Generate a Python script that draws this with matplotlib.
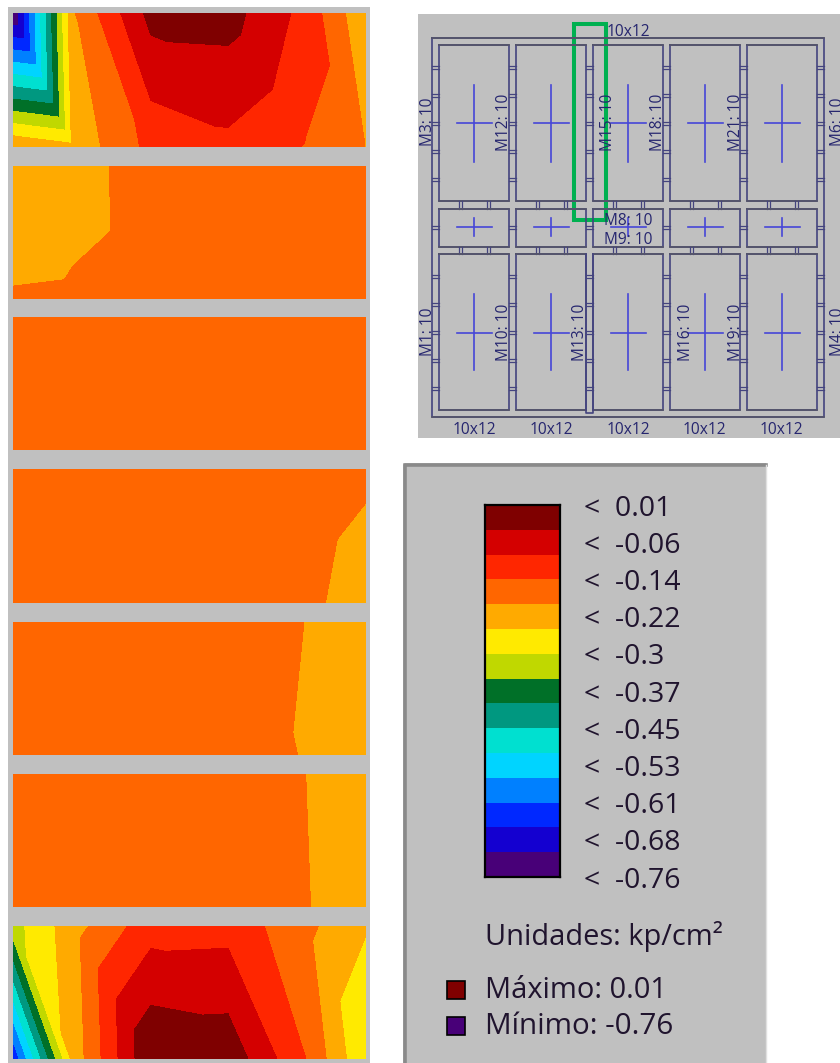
import matplotlib
matplotlib.use('Agg')
import matplotlib.pyplot as plt
import matplotlib.tri as mtri
from matplotlib.colors import ListedColormap, BoundaryNorm
from matplotlib.patches import Rectangle
import numpy as np

W, H = 840, 1063
plt.rcParams['font.family'] = ['Open Sans', 'DejaVu Sans']

# colour bands, top of the scale first
band_colors = ['#7f0000', '#d40000', '#ff2600', '#ff6600', '#ffaa00', '#ffea00', '#c0d800', '#007028',
               '#009880', '#00e0d0', '#00d4ff', '#0080ff', '#0028ff', '#1400d0', '#480078']
tick_values = [0.01, -0.06, -0.14, -0.22, -0.3, -0.37, -0.45, -0.53, -0.61, -0.68, -0.76]
vmin, vmax = -0.76, 0.01

# strips: mesh nodes along the width, values on the top and bottom edge (kp/cm2)
node_x = [13, 73, 151, 228, 306, 366]
strip_y = [(13, 147), (166, 299), (317, 450), (469, 603), (622, 755), (774, 907), (926, 1059)]
strip1_top = [-0.76, -0.20, -0.024, -0.021, -0.110, -0.24]
strip1_bot = [-0.20, -0.232, -0.129, -0.105, -0.147, -0.197]
strip2_top = [-0.221, -0.2085, -0.18, -0.165, -0.165, -0.17]
strip2_bot = [-0.1926, -0.191, -0.1815, -0.165, -0.165, -0.17]
strip3_top = [-0.17, -0.17, -0.17, -0.17, -0.17, -0.17]
strip3_bot = [-0.17, -0.17, -0.17, -0.17, -0.17, -0.17]
strip4_top = [-0.17, -0.17, -0.17, -0.165, -0.152, -0.182]
strip4_bot = [-0.17, -0.17, -0.17, -0.17, -0.1764, -0.235]
strip5_top = [-0.17, -0.17, -0.17, -0.17, -0.196, -0.21]
strip5_bot = [-0.17, -0.17, -0.17, -0.153, -0.2005, -0.21]
strip6_top = [-0.17, -0.17, -0.17, -0.17, -0.1955, -0.21]
strip6_bot = [-0.17, -0.17, -0.17, -0.17, -0.1927, -0.227]
strip7_top = [-0.318, -0.216, -0.113, -0.11, -0.183, -0.243]
strip7_bot = [-0.65, -0.229, 0.007, -0.006, -0.144, -0.296]
strips = [(strip1_top, strip1_bot), (strip2_top, strip2_bot), (strip3_top, strip3_bot), (strip4_top, strip4_bot),
          (strip5_top, strip5_bot), (strip6_top, strip6_bot), (strip7_top, strip7_bot)]

# floor plan
col_left = [439, 516, 593, 670, 747]
col_right = [509, 586, 663, 740, 817]
row_top = [45, 209, 254]
row_bot = [201, 247, 410]
row_cross_v = [(85, 162), (218, 236), (294, 370)]
row_cross_h = [123, 227, 333]
row_rungs = [[67, 95, 123, 151, 179], [227], [276, 304, 332, 360, 388]]
side_labels = [('M3: 10', 425, 122), ('M12: 10', 502, 122), ('M15: 10', 606, 122), ('M18: 10', 656, 122),
               ('M21: 10', 733, 122), ('M6: 10', 836, 122), ('M1: 10', 425, 332), ('M10: 10', 502, 332),
               ('M13: 10', 578, 332), ('M16: 10', 683, 332), ('M19: 10', 733, 332), ('M4: 10', 836, 332)]
flat_labels = [('10x12', 628, 32), ('M8: 10', 628, 221), ('M9: 10', 628, 240), ('10x12', 474, 430),
               ('10x12', 551, 430), ('10x12', 628, 430), ('10x12', 704, 430), ('10x12', 781, 430)]

GRAY = '#c0c0c0'
NAVY = '#44447f'
EDGE = '#55556a'
TEXT_NAVY = '#26266f'
CROSS = '#4646d8'
INK = '#20142e'

levels = np.linspace(vmin, vmax, len(band_colors) + 1)
colors_low_first = band_colors[::-1]


def axes_px(x0, y0, x1, y1):
    return fig.add_axes([x0 / W, 1 - y1 / H, (x1 - x0) / W, (y1 - y0) / H])


fig = plt.figure(figsize=(W / 100, H / 100), dpi=100, facecolor='white')

# overlay in pixel units for the backgrounds and the plan
bg = fig.add_axes([0, 0, 1, 1])
bg.set_xlim(0, W)
bg.set_ylim(H, 0)
bg.axis('off')
bg.add_patch(Rectangle((8, 7), 362, 1056, fc=GRAY, ec='none'))
bg.add_patch(Rectangle((418, 14), 422, 424, fc=GRAY, ec='none'))
bg.add_patch(Rectangle((403, 463), 363, 600, fc=GRAY, ec='none'))
bg.plot([405, 405, 766], [1063, 465, 465], color='#8a8a8a', lw=2.6)
bg.plot([766, 766], [465, 1063], color='#e0e0e0', lw=1)

# pressure strips, each mesh cell split into two triangles
n = len(node_x)
triangles = []
for i in range(n - 1):
    triangles.append([i, i + 1, n + i + 1])
    triangles.append([i, n + i, n + i + 1])
for (y0, y1), (top, bot) in zip(strip_y, strips):
    ax = axes_px(node_x[0], y0, node_x[-1], y1)
    tri = mtri.Triangulation(node_x + node_x, [1] * n + [0] * n, triangles)
    ax.tricontourf(tri, top + bot, levels=levels, colors=colors_low_first)
    ax.set_xlim(node_x[0], node_x[-1])
    ax.set_ylim(0, 1)
    ax.axis('off')

# plan
bg.plot([432, 824, 824, 432, 432], [38, 38, 417, 417, 38], color=NAVY, lw=1.2)
bg.plot([432, 824], [38, 38], color=EDGE, lw=1.3)
bg.plot([432, 824], [417, 417], color=EDGE, lw=1.3)
for k in range(3):
    for j in range(5):
        l, r, t, b = col_left[j], col_right[j], row_top[k], row_bot[k]
        bg.plot([l, r, r, l, l], [t, t, b, b, t], color=NAVY, lw=1.2)
        bg.plot([l, r], [t, t], color=EDGE, lw=1.3)
        bg.plot([l, r], [b, b], color=EDGE, lw=1.3)
        cx = (l + r) / 2
        bg.plot([cx, cx], row_cross_v[k], color=CROSS, lw=1.2)
        bg.plot([l + 18, r - 17], [row_cross_h[k]] * 2, color=CROSS, lw=1.2)
        # rungs across the gap on the left of this panel
        gap_left = 432 if j == 0 else col_right[j - 1]
        for y in row_rungs[k]:
            bg.plot([gap_left, l], [y - 1.5, y - 1.5], color=NAVY, lw=0.9)
            bg.plot([gap_left, l], [y + 1.5, y + 1.5], color=NAVY, lw=0.9)
        if j == 4:
            for y in row_rungs[k]:
                bg.plot([r, 824], [y - 1.5, y - 1.5], color=NAVY, lw=0.9)
                bg.plot([r, 824], [y + 1.5, y + 1.5], color=NAVY, lw=0.9)
    # rungs across the gap below this row
    if k < 2:
        for j in range(5):
            for off in (21, 49):
                x = col_left[j] + off
                bg.plot([x - 1.5, x - 1.5], [row_bot[k], row_top[k + 1]], color=NAVY, lw=0.9)
                bg.plot([x + 1.5, x + 1.5], [row_bot[k], row_top[k + 1]], color=NAVY, lw=0.9)
bg.plot([586, 586, 593, 593], [254, 413, 413, 254], color=NAVY, lw=1.2)

for s, x, y in side_labels:
    bg.text(x + 2.5, y, s, rotation=90, ha='center', va='center', fontsize=11.2, color=TEXT_NAVY)
for s, x, y in flat_labels:
    bg.text(x, y, s, ha='center', va='center', fontsize=11.2, color=TEXT_NAVY)
bg.add_patch(Rectangle((573.5, 23.5), 32, 196, fc='none', ec='#00b050', lw=2.9))

# colour scale, labels sit on evenly spaced steps (the printed values are rounded)
cax = axes_px(485, 505, 560, 877)
cmap = ListedColormap(colors_low_first)
cax.pcolormesh([0, 1], levels, np.array(levels[:-1]).reshape(-1, 1), cmap=cmap, norm=BoundaryNorm(levels, cmap.N))
cax.set_ylim(vmin, vmax)
cax.set_xticks([])
cax.yaxis.tick_right()
cax.set_yticks(np.linspace(vmax, vmin, len(tick_values)))
cax.set_yticklabels([f'<  {v:g}' for v in tick_values], fontsize=20.5, color=INK)
cax.tick_params(axis='y', length=0, pad=17)
for sp in cax.spines.values():
    sp.set_linewidth(1.6)
    sp.set_color('black')

bg.text(485, 936, 'Unidades: kp/cm²', ha='left', va='center', fontsize=20.9, color=INK)
bg.text(485, 991, 'Máximo: 0.01', ha='left', va='center', fontsize=20.9, color=INK)
bg.text(485, 1027, 'Mínimo: -0.76', ha='left', va='center', fontsize=21.3, color=INK)
bg.add_patch(Rectangle((447, 981), 18, 18, fc=band_colors[0], ec='black', lw=1.2))
bg.add_patch(Rectangle((447, 1017), 18, 18, fc=band_colors[-1], ec='black', lw=1.2))

fig.savefig('out.png', dpi=100)
